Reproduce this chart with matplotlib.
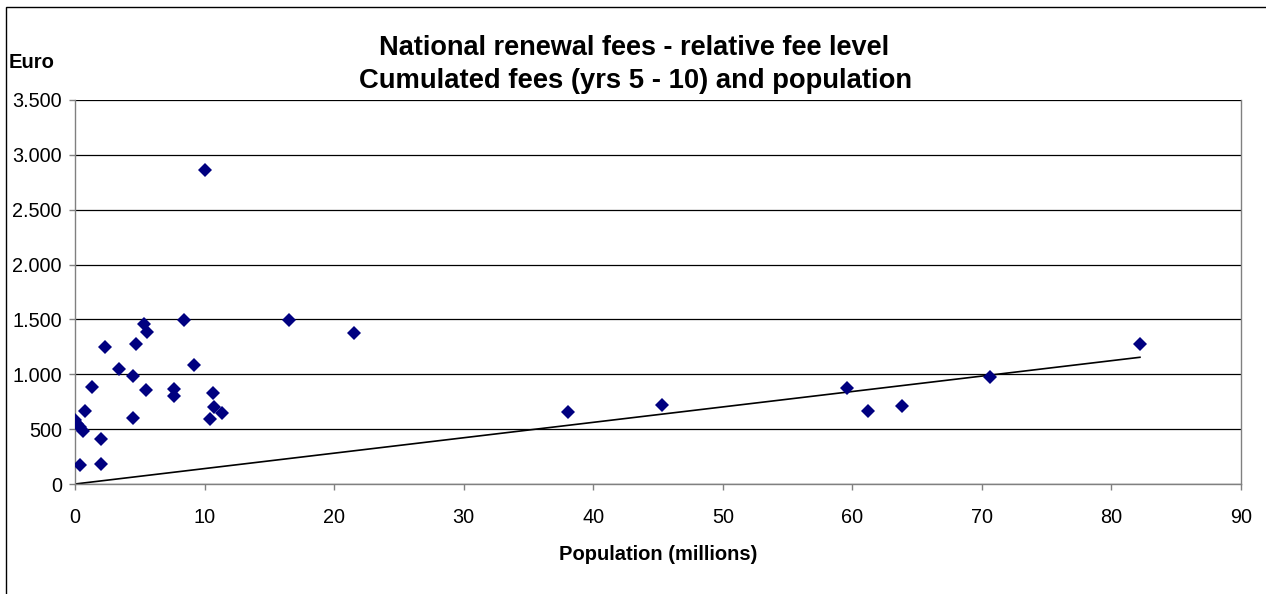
import matplotlib.pyplot as plt
from matplotlib.patches import Rectangle
from matplotlib.ticker import FuncFormatter, MultipleLocator

# population in millions and cumulated renewal fees (years 5-10) in euro
population = [0.02, 0.15, 0.35, 0.6, 0.4, 0.8, 1.34, 1.98, 1.98, 2.34,
              3.4, 4.48, 4.48, 4.71, 5.35, 5.58, 5.48, 7.61, 7.61, 8.39,
              9.21, 10.0, 10.44, 10.62, 10.73, 11.32, 16.49, 21.55, 38.09, 45.3,
              59.6, 61.2, 63.86, 70.6, 82.18]
fees = [583, 545, 520, 482, 170, 665, 881, 410, 185, 1249,
        1048, 981, 604, 1279, 1458, 1388, 857, 866, 802, 1495,
        1088, 2860, 590, 829, 699, 650, 1492, 1379, 653, 717,
        872, 665, 714, 972, 1276]

# reference line
trend_x = [0, 82.2]
trend_y = [0, 1155]

W, H = 1266, 594
fig = plt.figure(figsize=(W / 100, H / 100), dpi=100)
plt.rcParams['font.family'] = ['Liberation Sans', 'DejaVu Sans']

# chart area border (runs off the right and bottom edge)
fig.patches.append(Rectangle((6 / W, -0.05), 1.2, (H - 7) / H + 0.05,
                             transform=fig.transFigure, fill=False,
                             edgecolor='black', linewidth=1.0))

ax = fig.add_axes([75 / W, 1 - 484 / H, (1241 - 75) / W, (484 - 100) / H])

ax.plot(trend_x, trend_y, color='black', linewidth=1.2, zorder=2)
ax.plot(population, fees, linestyle='none', marker='D', markersize=7.4,
        color='#000080', markeredgewidth=0, zorder=3)

ax.set_xlim(0, 90)
ax.set_ylim(0, 3500)
ax.xaxis.set_major_locator(MultipleLocator(10))
ax.yaxis.set_major_locator(MultipleLocator(500))
ax.yaxis.set_major_formatter(FuncFormatter(lambda v, p: f"{v:,.0f}".replace(",", ".")))

ax.grid(axis='y', color='black', linewidth=0.9)
ax.set_axisbelow(True)
for side in ['left', 'bottom', 'right', 'top']:
    ax.spines[side].set_color('#808080')
    ax.spines[side].set_linewidth(1.0)
ax.spines['top'].set_visible(False)

ax.tick_params(axis='both', direction='out', length=4.5, width=1.0,
               color='#808080', labelsize=14.3, labelcolor='black')
ax.tick_params(axis='x', pad=13)
ax.tick_params(axis='y', pad=5)

ax.set_xlabel('Population (millions)', fontsize=14.5, fontweight='bold', labelpad=13)

fig.text(634 / W, 1 - 48 / H, 'National renewal fees - relative fee level',
         ha='center', va='center', fontsize=19.5, fontweight='bold')
fig.text(636 / W, 1 - 81 / H, 'Cumulated fees (yrs 5 - 10) and population',
         ha='center', va='center', fontsize=19.7, fontweight='bold')
fig.text(9 / W, 1 - 62 / H, 'Euro', ha='left', va='center',
         fontsize=14.5, fontweight='bold')

plt.savefig('out.png', dpi=100)
